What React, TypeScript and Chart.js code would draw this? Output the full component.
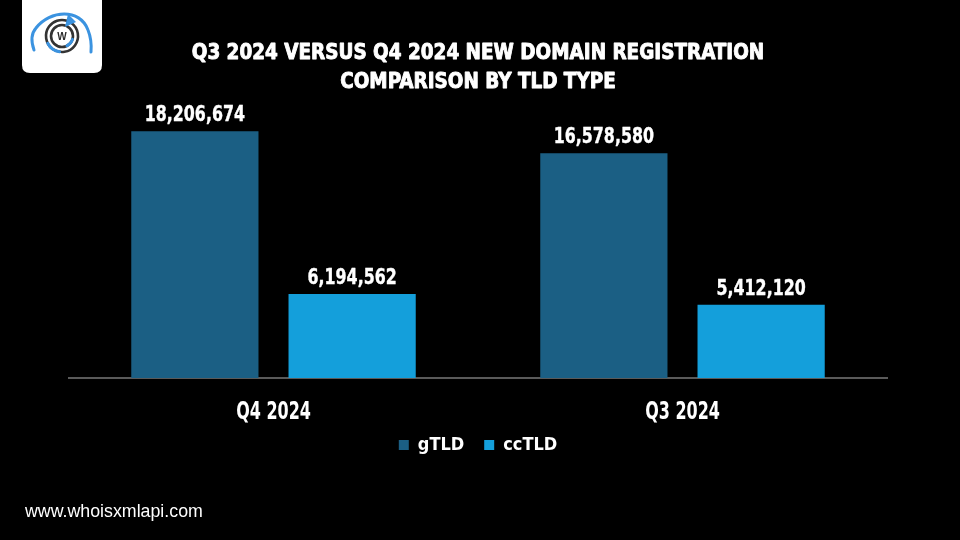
import React, { useEffect, useRef } from "react";
import { Chart, registerables } from "chart.js";

Chart.register(...registerables);

const categories = ["Q4 2024", "Q3 2024"];
const seriesNames = ["gTLD", "ccTLD"];
const gtldValues = [18206674, 16578580];
const cctldValues = [6194562, 5412120];
const seriesColors = ["#1b5f84", "#149fdb"];
const titleLines = ["Q3 2024 VERSUS Q4 2024 NEW DOMAIN REGISTRATION", "COMPARISON BY TLD TYPE"];
const footerText = "www.whoisxmlapi.com";
const yMin = 0;
const yMax = 20000000;

const CONDENSED = '"DejaVu Sans Condensed", "Liberation Sans Narrow", sans-serif';

function drawCondensed(
  ctx: CanvasRenderingContext2D,
  text: string,
  x: number,
  y: number,
  sx: number,
  stroke = 0
) {
  ctx.save();
  ctx.translate(x, y);
  ctx.scale(sx, 1);
  ctx.fillText(text, 0, 0);
  if (stroke > 0) {
    ctx.lineWidth = stroke;
    ctx.strokeStyle = ctx.fillStyle as string;
    ctx.lineJoin = "round";
    ctx.strokeText(text, 0, 0);
  }
  ctx.restore();
}

function drawLogo(ctx: CanvasRenderingContext2D) {
  ctx.save();
  ctx.fillStyle = "#ffffff";
  ctx.beginPath();
  const x0 = 22, y0 = -10, x1 = 102, y1 = 73, r = 8;
  ctx.moveTo(x0, y0);
  ctx.lineTo(x1, y0);
  ctx.lineTo(x1, y1 - r);
  ctx.quadraticCurveTo(x1, y1, x1 - r, y1);
  ctx.lineTo(x0 + r, y1);
  ctx.quadraticCurveTo(x0, y1, x0, y1 - r);
  ctx.closePath();
  ctx.fill();

  ctx.strokeStyle = "#3b93e0";
  ctx.lineWidth = 3;
  ctx.lineCap = "round";
  ctx.beginPath();
  ctx.moveTo(34, 50);
  ctx.quadraticCurveTo(29, 36, 36, 28);
  ctx.bezierCurveTo(50, 10, 80, 8, 88, 30);
  ctx.quadraticCurveTo(92, 40, 91, 52);
  ctx.stroke();

  const cx = 62, cy = 36;
  ctx.strokeStyle = "#333333";
  ctx.lineWidth = 2.6;
  ctx.beginPath();
  ctx.arc(cx, cy, 16, -Math.PI * 0.3, Math.PI * 1.6);
  ctx.stroke();
  ctx.beginPath();
  ctx.arc(cx, cy, 11, 0, Math.PI * 2);
  ctx.stroke();
  ctx.strokeStyle = "#3b93e0";
  ctx.lineWidth = 3;
  ctx.beginPath();
  ctx.arc(cx, cy, 16, Math.PI * 0.55, Math.PI * 0.85);
  ctx.stroke();
  ctx.beginPath();
  ctx.arc(cx, cy, 11, Math.PI * 0.1, Math.PI * 0.35);
  ctx.stroke();
  ctx.fillStyle = "#3b93e0";
  ctx.beginPath();
  ctx.moveTo(cx + 3, cy - 9);
  ctx.lineTo(cx + 6, cy - 22);
  ctx.lineTo(cx + 14, cy - 14);
  ctx.closePath();
  ctx.fill();
  ctx.fillStyle = "#2a2a2a";
  ctx.font = 'bold 10px "Liberation Sans", Arial, sans-serif';
  ctx.textAlign = "center";
  ctx.textBaseline = "middle";
  ctx.fillText("W", cx, cy + 1);
  ctx.restore();
}

const decorPlugin = {
  id: "decor",
  beforeDraw(chart: any) {
    const ctx: CanvasRenderingContext2D = chart.ctx;
    ctx.save();
    ctx.fillStyle = "#000000";
    ctx.fillRect(0, 0, chart.width, chart.height);
    ctx.restore();
    drawLogo(ctx);
    ctx.save();
    ctx.fillStyle = "#ffffff";
    ctx.textAlign = "center";
    ctx.textBaseline = "alphabetic";
    ctx.font = "bold 22px " + CONDENSED;
    drawCondensed(ctx, titleLines[0], 478, 59, 0.93, 0.9);
    drawCondensed(ctx, titleLines[1], 478, 88, 0.93, 0.9);
    ctx.textAlign = "left";
    ctx.font = '17.8px "Liberation Sans", Arial, sans-serif';
    ctx.fillText(footerText, 25, 517);
    ctx.restore();
  },
  afterDraw(chart: any) {
    const ctx: CanvasRenderingContext2D = chart.ctx;
    const xScale = chart.scales.x;
    ctx.save();
    ctx.fillStyle = "#ffffff";
    ctx.textAlign = "center";
    ctx.textBaseline = "alphabetic";
    ctx.font = "bold 24px " + CONDENSED;
    xScale.ticks.forEach((_t: any, i: number) => {
      const px = xScale.getPixelForTick(i);
      drawCondensed(ctx, String(xScale.getLabelForValue(i)), px, chart.chartArea.bottom + 41, 0.74);
    });
    ctx.restore();
  },
  afterDatasetsDraw(chart: any) {
    const ctx: CanvasRenderingContext2D = chart.ctx;
    ctx.save();
    ctx.fillStyle = "#ffffff";
    ctx.textAlign = "center";
    ctx.textBaseline = "alphabetic";
    ctx.font = "bold 22px " + CONDENSED;
    chart.data.datasets.forEach((ds: any, i: number) => {
      const meta = chart.getDatasetMeta(i);
      meta.data.forEach((el: any, j: number) => {
        const v = ds.data[j] as number;
        drawCondensed(ctx, v.toLocaleString("en-US"), el.x, el.y - 10, 0.8, 0.4);
      });
    });
    ctx.restore();
  },
};

export default function App() {
  const ref = useRef<HTMLCanvasElement | null>(null);
  useEffect(() => {
    document.body.style.background = "#000";
    const canvas = ref.current!;
    const chart = new Chart(canvas, {
      type: "bar",
      data: {
        labels: categories,
        datasets: [
          {
            label: seriesNames[0],
            data: gtldValues,
            backgroundColor: seriesColors[0],
            categoryPercentage: 0.769,
            barPercentage: 0.809,
          },
          {
            label: seriesNames[1],
            data: cctldValues,
            backgroundColor: seriesColors[1],
            categoryPercentage: 0.769,
            barPercentage: 0.809,
          },
        ],
      },
      options: {
        responsive: false,
        animation: false,
        layout: { padding: { left: 69, right: 73, top: 107, bottom: 76 } },
        plugins: {
          legend: {
            position: "bottom",
            labels: {
              color: "#ffffff",
              boxWidth: 10,
              boxHeight: 10,
              padding: 20,
              font: { family: CONDENSED, size: 18, weight: "bold" },
            },
          },
          title: { display: false },
          tooltip: { enabled: false },
        },
        scales: {
          x: {
            grid: { display: false, drawTicks: false },
            border: { display: true, color: "#5a5a5a", width: 2 },
            ticks: { display: false },
            afterFit: (scale: any) => {
              scale.height = 38;
            },
          },
          y: {
            display: false,
            min: yMin,
            max: yMax,
          },
        },
      },
      plugins: [decorPlugin],
    } as any);
    return () => chart.destroy();
  }, []);
  return (
    <div style={{ position: "fixed", left: 0, top: 0, width: 960, height: 540, background: "#000" }}>
      <canvas ref={ref} width={960} height={540} style={{ display: "block", width: 960, height: 540 }} />
    </div>
  );
}
